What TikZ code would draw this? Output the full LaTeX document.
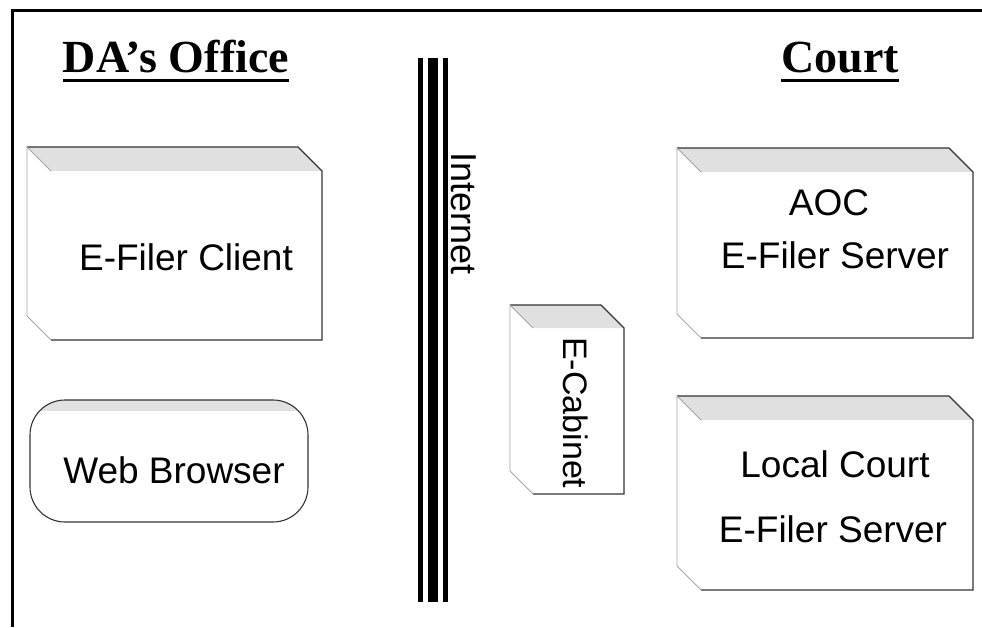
\documentclass[tikz,border=0pt]{standalone}
\usepackage{fontspec}
\setmainfont{Liberation Sans}
\newfontfamily\headfont{Liberation Serif}
\tikzset{
  edge/.style={draw=black!80, line width=1.1pt},
  faint/.style={draw=black!35, line width=0.8pt},
  bandfill/.style={fill=black!12},
  heading/.style={font=\headfont\bfseries\fontsize{46}{50}\selectfont, inner sep=0pt, anchor=base},
  label/.style={font=\fontsize{37}{42}\selectfont, inner sep=0pt, anchor=base},
  vlabel/.style={font=\fontsize{36}{40}\selectfont, inner sep=0pt, anchor=base west, rotate=-90},
  cable/.style={fill=black},
}
% l, t, r, b, corner size: a bevelled plate with a shaded top face
\newcommand\plateshape[5]{%
  \fill[bandfill] (#1,#2) -- (#3-#5,#2) -- (#3,#2+#5) -- (#1+#5,#2+#5) -- cycle;
  \draw[edge] (#1,#2) -- (#3-#5,#2) -- (#3,#2+#5) -- (#3,#4) -- (#1+#5,#4);
  \draw[faint] (#1+#5,#4) -- (#1,#4-#5) -- (#1,#2) -- (#1+#5,#2+#5);
}
\begin{document}
\begin{tikzpicture}[x=1pt,y=-1pt]
\useasboundingbox (0,0) rectangle (982,627);
\fill[white] (0,0) rectangle (982,627);

% outer frame (only top and left sides fall inside the page)
\draw[line width=3pt] (12,627) -- (12,10) -- (982,10);

% headings
\node[heading] (da) at (176,72) {DA’s Office};
\draw[line width=3pt] ([yshift=-8pt]da.base west) -- ([yshift=-8pt]da.base east);
\node[heading] (court) at (840,72) {Court};
\draw[line width=3pt] ([yshift=-8pt]court.base west) -- ([yshift=-8pt]court.base east);

% internet trunk
\fill[cable] (418,58) rectangle (423,602);
\fill[cable] (428,58) rectangle (438,602);
\fill[cable] (443,58) rectangle (448,602);
\node[vlabel] (inet) at (451,152) {Internet};

% DA's office side
\plateshape{27}{147}{322}{340}{24}
\node[label] (client) at (186,270) {E-Filer Client};

\begin{scope}
  \clip[rounded corners=35] (30,400) rectangle (308,522);
  \fill[bandfill] (30,400) rectangle (308,411);
\end{scope}
\draw[edge, rounded corners=35] (30,400) rectangle (308,522);
\node[label] (browser) at (174,483) {Web Browser};

% cabinet
\plateshape{510}{305}{624}{494}{23}
\node[vlabel, font=\fontsize{34}{40}\selectfont] (cab) at (563,337) {E-Cabinet};

% court side
\plateshape{677}{148}{973}{338}{24}
\node[label] (aoc) at (829,215) {AOC};
\node[label] (aocsrv) at (835,268) {E-Filer Server};

\plateshape{677}{396}{973}{590}{24}
\node[label] (local) at (835,477) {Local Court};
\node[label] (localsrv) at (833,542) {E-Filer Server};
\end{tikzpicture}
\end{document}
